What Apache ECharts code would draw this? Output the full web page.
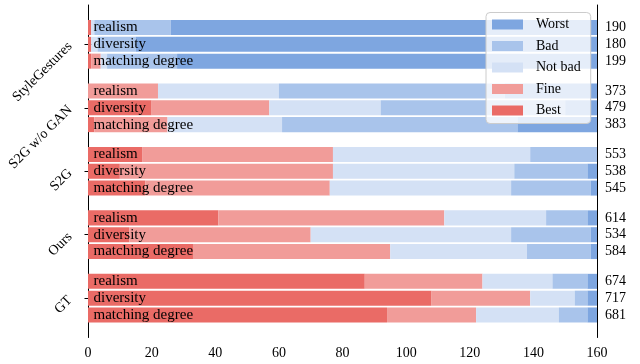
<!DOCTYPE html>
<html>
<head>
<meta charset="utf-8">
<script src="https://cdn.jsdelivr.net/npm/echarts@6/dist/echarts.min.js"></script>
<style>
  html, body { margin: 0; padding: 0; background: #fff; }
  #chart { width: 640px; height: 364px; }
</style>
</head>
<body>
<div id="chart"></div>
<script>
// Methods compared in the user study (top to bottom)
const groups = ['StyleGestures', 'S2G w/o GAN', 'S2G', 'Ours', 'GT'];
// Rated aspects, one bar each per method
const criteria = ['realism', 'diversity', 'matching degree'];

// Vote counts per rating (160 votes per bar), group-major order:
// StyleGestures(r,d,m), S2G w/o GAN(r,d,m), S2G(r,d,m), Ours(r,d,m), GT(r,d,m)
const best   = [1, 1, 1,    0, 20, 2,    17, 10, 18,   41, 13, 33,   87, 108, 94];
const fine   = [0, 0, 3,    22, 37, 23,  60, 67, 58,   71, 57, 62,   37, 31, 28];
const notBad = [1, 2, 2,    38, 35, 36,  62, 57, 57,   32, 63, 43,   22, 14, 26];
const bad    = [24, 12, 22, 71, 58, 74,  21, 23, 25,   13, 25, 20,   11, 4, 9];
const worst  = [134, 145, 132, 29, 10, 25, 0, 3, 2,    3, 2, 2,      3, 3, 3];

// Weighted score shown at the right end of each bar
const scores = [190, 180, 199, 373, 479, 383, 553, 538, 545, 614, 534, 584, 674, 717, 681];

// X axis ticks
const xTicks = [0, 20, 40, 60, 80, 100, 120, 140, 160];

const ratingNames  = ['Best', 'Fine', 'Not bad', 'Bad', 'Worst'];
const ratingValues = [best, fine, notBad, bad, worst];
const ratingColors = ['#EA6B66', '#F19C99', '#D4E1F5', '#A9C4EB', '#7EA6E0'];

const ROW_STEP = 0.265;   // spacing between bars inside a group (axis units)
const BAR_H = 0.237;      // bar thickness (axis units)
const SERIF = '"Liberation Serif", "DejaVu Serif", serif';

// y position of each bar row
const rowY = [];
groups.forEach((g, gi) => {
  criteria.forEach((c, ci) => rowY.push(gi + (ci - 1) * ROW_STEP));
});

// stacked segments: [start, end, y]
const cumulative = rowY.map(() => 0);
const barSeries = ratingNames.map((name, ri) => {
  const data = rowY.map((y, i) => {
    const s = cumulative[i];
    const e = s + ratingValues[ri][i];
    cumulative[i] = e;
    return [s, e, y];
  });
  return {
    name: name,
    type: 'custom',
    clip: false,
    silent: true,
    itemStyle: { color: ratingColors[ri] },
    encode: { x: [0, 1], y: 2 },
    renderItem: function (params, api) {
      const p0 = api.coord([api.value(0), api.value(2)]);
      const p1 = api.coord([api.value(1), api.value(2)]);
      const h = api.size([0, BAR_H])[1];
      return {
        type: 'rect',
        shape: { x: p0[0], y: p0[1] - h / 2, width: p1[0] - p0[0], height: h },
        style: { fill: api.visual('color') }
      };
    },
    data: data
  };
});

// aspect names written inside the bars
const labelSeries = {
  name: 'aspect',
  type: 'custom',
  clip: false,
  silent: true,
  z: 3,
  encode: { x: 0, y: 1 },
  renderItem: function (params, api) {
    const p = api.coord([api.value(0), api.value(1)]);
    return {
      type: 'text',
      x: p[0] + 5.5,
      y: p[1],
      style: {
        text: criteria[params.dataIndex % 3],
        fill: '#000',
        font: '15px ' + SERIF,
        align: 'left',
        verticalAlign: 'middle'
      }
    };
  },
  data: rowY.map(y => [0, y])
};

// scores written outside the right edge
const scoreSeries = {
  name: 'score',
  type: 'custom',
  clip: false,
  silent: true,
  z: 3,
  encode: { x: 0, y: 1 },
  renderItem: function (params, api) {
    const p = api.coord([api.value(0), api.value(1)]);
    return {
      type: 'text',
      x: p[0] + 8,
      y: p[1],
      style: {
        text: String(scores[params.dataIndex]),
        fill: '#000',
        font: '14px ' + SERIF,
        align: 'left',
        verticalAlign: 'middle'
      }
    };
  },
  data: rowY.map(y => [160, y])
};

const chart = echarts.init(document.getElementById('chart'), null, { renderer: 'canvas' });
chart.setOption({
  animation: false,
  backgroundColor: '#fff',
  grid: { left: 88, right: 43, top: 5, bottom: 26.5, containLabel: false },
  legend: {
    data: ['Worst', 'Bad', 'Not bad', 'Fine', 'Best'],
    orient: 'vertical',
    left: 486,
    top: 12.5,
    itemWidth: 31,
    itemHeight: 10,
    itemGap: 7.5,
    icon: 'rect',
    padding: [5, 10, 6, 6],
    backgroundColor: 'rgba(255,255,255,0.8)',
    borderColor: '#cccccc',
    borderWidth: 1,
    borderRadius: 4,
    textStyle: {
      fontFamily: SERIF,
      fontSize: 14,
      lineHeight: 14,
      color: '#000',
      padding: [0, 0, 0, 8]
    }
  },
  xAxis: {
    type: 'value',
    min: 0,
    max: 160,
    interval: 20,
    axisLine: { show: true, lineStyle: { color: '#000', width: 1 } },
    axisTick: { show: true, length: 3.5, lineStyle: { color: '#000' } },
    axisLabel: {
      color: '#000',
      fontFamily: SERIF,
      fontSize: 14,
      margin: 9,
      customValues: xTicks
    },
    splitLine: { show: false }
  },
  yAxis: [
    {
      type: 'value',
      inverse: true,
      min: -0.62,
      max: 4.62,
      axisLine: { show: true, lineStyle: { color: '#000', width: 1 } },
      axisTick: { show: true, length: 3.5, lineStyle: { color: '#000' }, customValues: [0, 1, 2, 3, 4] },
      axisLabel: {
        customValues: [0, 1, 2, 3, 4],
        formatter: v => groups[Math.round(v)],
        rotate: 45,
        color: '#000',
        fontFamily: SERIF,
        fontSize: 14,
        margin: 18
      },
      splitLine: { show: false }
    },
    {
      type: 'value',
      position: 'right',
      inverse: true,
      min: -0.62,
      max: 4.62,
      axisLine: { show: true, onZero: false, lineStyle: { color: '#000', width: 1 } },
      axisTick: { show: false },
      axisLabel: { show: false },
      splitLine: { show: false }
    }
  ],
  series: barSeries.concat([labelSeries, scoreSeries])
});
</script>
</body>
</html>
